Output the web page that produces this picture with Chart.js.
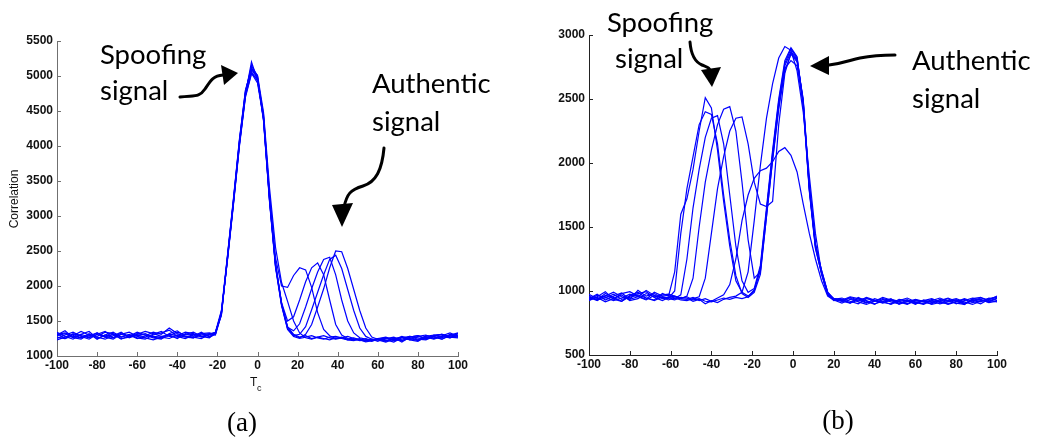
<!DOCTYPE html>
<html>
<head>
<meta charset="utf-8">
<script src="https://cdn.jsdelivr.net/npm/chart.js@4"></script>
<style>
  body { margin: 0; background: #fff; }
  #wrap { position: relative; width: 1044px; height: 437px; overflow: hidden; background: #fff; }
  canvas { position: absolute; top: 0; }
  #chartA { left: 0; }
  #chartB { left: 520px; }
  svg { position: absolute; left: 0; top: 0; }
  .note { font-family: Lato, "Noto Sans", sans-serif; font-size: 27.5px; fill: #000; }
  .lab { font-family: "Liberation Sans", Arial, sans-serif; fill: #111; }
  .cap { font-family: "Liberation Serif", "DejaVu Serif", serif; font-size: 27px; fill: #000; }
</style>
</head>
<body>
<div id="wrap">
  <canvas id="chartA" width="510" height="437"></canvas>
  <canvas id="chartB" width="524" height="437"></canvas>
  <svg width="1044" height="437">
    <text class="note" x="100" y="64">Spoofing</text>
    <text class="note" x="100" y="100">signal</text>
    <text class="note" x="372" y="93">Authentic</text>
    <text class="note" x="372" y="131">signal</text>
    <text class="note" x="607" y="32">Spoofing</text>
    <text class="note" x="615" y="68">signal</text>
    <text class="note" x="912" y="70">Authentic</text>
    <text class="note" x="912" y="108">signal</text>
    <text class="lab" style="font-size:12px" transform="translate(18,199) rotate(-90)" text-anchor="middle">Correlation</text>
    <text class="lab" style="font-size:12px" x="250" y="386">T</text>
    <text class="lab" style="font-size:9px" x="257" y="391">c</text>
    <text class="cap" x="242" y="431" text-anchor="middle">(a)</text>
    <text class="cap" x="838" y="429" text-anchor="middle">(b)</text>
    <g fill="none" stroke="#000" stroke-width="3" stroke-linecap="round">
      <path d="M180,97 C194,95 199,98 205,89 S213,76 223,75"/>
      <path d="M384,148 C382,170 376,182 363,186 S347,194 344,207"/>
      <path d="M690,42 C691,55 695,62 702,65 S710,68 711,73"/>
      <path d="M895,55 C880,55 870,56 860,58 S845,63 829,65"/>
    </g>
    <g fill="#000">
      <polygon points="238,73 221,65 224,85"/>
      <polygon points="342,227 332,205 353,203"/>
      <polygon points="712,87 701,70 721,67"/>
      <polygon points="810,66 829,56 829,75"/>
    </g>
  </svg>
</div>
<script>
// ---- panel (a): spoofing peak near 0, authentic peak moving out to +40 ----
const xA = [-100, -96, -92, -88, -84, -80, -76, -72, -68, -64, -60, -56, -52, -48, -44, -40, -36, -32, -28, -24,
  -21, -18, -15, -12, -9, -6, -3, 0, 3, 6, 9, 12, 15, 18, 21, 24, 27, 30, 33, 36, 39, 42, 45, 48, 51, 54, 57, 60,
  64, 68, 72, 76, 80, 84, 88, 92, 96, 100];

const a1 = [1300, 1360, 1260, 1310, 1350, 1250, 1300, 1340, 1270, 1310, 1260, 1240, 1300, 1330, 1370, 1280, 1250, 1300, 1320, 1280,
  1320, 1620, 2380, 3180, 4020, 4730, 5060, 4930, 4420, 3300, 2400, 2000, 1980, 2150, 2260, 2230, 1980, 1620, 1380, 1290, 1250, 1270, 1240, 1260, 1230, 1250, 1220, 1240,
  1210, 1260, 1200, 1270, 1290, 1240, 1300, 1310, 1260, 1320];
const a2 = [1250, 1300, 1340, 1280, 1240, 1310, 1350, 1260, 1330, 1280, 1340, 1300, 1260, 1240, 1320, 1360, 1280, 1270, 1250, 1310,
  1340, 1580, 2420, 3230, 4080, 4790, 5120, 4980, 4380, 3220, 2290, 1760, 1500, 1560, 1800, 2060, 2260, 2330, 2160, 1800, 1450, 1300, 1250, 1230, 1250, 1220, 1240, 1210,
  1260, 1220, 1270, 1230, 1280, 1300, 1250, 1290, 1330, 1280];
const a3 = [1340, 1280, 1240, 1310, 1270, 1330, 1280, 1310, 1250, 1270, 1310, 1350, 1320, 1280, 1300, 1250, 1320, 1280, 1340, 1270,
  1310, 1640, 2360, 3160, 4000, 4700, 5030, 4960, 4450, 3280, 2330, 1740, 1410, 1360, 1460, 1700, 1960, 2200, 2380, 2410, 2160, 1800, 1500, 1330, 1260, 1240, 1220, 1250,
  1230, 1200, 1260, 1280, 1240, 1230, 1280, 1310, 1270, 1260];
const a4 = [1230, 1270, 1310, 1260, 1290, 1330, 1270, 1240, 1310, 1340, 1280, 1260, 1230, 1270, 1310, 1290, 1340, 1320, 1270, 1300,
  1330, 1610, 2400, 3210, 4060, 4760, 5150, 5000, 4380, 3230, 2280, 1730, 1390, 1290, 1310, 1420, 1660, 1910, 2160, 2380, 2440, 2250, 1950, 1650, 1400, 1280, 1240, 1230,
  1200, 1240, 1220, 1270, 1290, 1250, 1280, 1240, 1300, 1330];
const a5 = [1290, 1320, 1260, 1240, 1310, 1280, 1340, 1320, 1270, 1300, 1250, 1290, 1340, 1310, 1400, 1320, 1280, 1260, 1300, 1320,
  1300, 1590, 2390, 3190, 4040, 4740, 5200, 4940, 4410, 3260, 2310, 1760, 1400, 1300, 1260, 1310, 1450, 1700, 1960, 2260, 2500, 2490, 2250, 1950, 1650, 1400, 1270, 1240,
  1220, 1250, 1270, 1230, 1210, 1280, 1300, 1260, 1310, 1280];
const a6 = [1320, 1250, 1290, 1350, 1300, 1270, 1240, 1290, 1340, 1260, 1300, 1270, 1310, 1350, 1280, 1270, 1310, 1340, 1280, 1260,
  1330, 1620, 2410, 3220, 4070, 4770, 5100, 5010, 4480, 3400, 2550, 2050, 1780, 1500, 1330, 1260, 1240, 1270, 1250, 1230, 1260, 1250, 1230, 1220, 1240, 1210, 1230, 1250,
  1270, 1230, 1280, 1250, 1220, 1270, 1240, 1280, 1260, 1300];
const a7 = [1270, 1250, 1320, 1290, 1260, 1310, 1270, 1310, 1240, 1290, 1320, 1300, 1280, 1270, 1250, 1300, 1270, 1260, 1320, 1330,
  1310, 1600, 2380, 3190, 4030, 4720, 5040, 4900, 4390, 3240, 2290, 1740, 1420, 1310, 1270, 1290, 1250, 1270, 1290, 1260, 1240, 1260, 1280, 1250, 1230, 1200, 1220, 1230,
  1250, 1270, 1220, 1250, 1230, 1290, 1270, 1240, 1290, 1270];
const a8 = [1310, 1330, 1280, 1260, 1320, 1240, 1300, 1260, 1310, 1280, 1290, 1320, 1270, 1250, 1290, 1340, 1300, 1310, 1280, 1310,
  1340, 1650, 2430, 3250, 4100, 4800, 5090, 4970, 4360, 3200, 2260, 1720, 1380, 1280, 1250, 1270, 1290, 1260, 1240, 1270, 1280, 1260, 1230, 1240, 1220, 1230, 1210, 1240,
  1260, 1220, 1240, 1280, 1260, 1240, 1290, 1310, 1280, 1320];

// ---- panel (b): spoofing peaks walking in from -42, authentic peak near 0 ----
const xB = [-100, -96, -92, -88, -84, -80, -76, -72, -68, -64,
  -61, -58, -55, -52, -49, -46, -43, -40, -37, -34, -31, -28, -25, -22, -19, -16, -13, -10, -7, -4, -1, 2, 5, 8, 11, 14, 17, 20,
  24, 28, 32, 36, 40, 44, 48, 52, 56, 60, 64, 68, 72, 76, 80, 84, 88, 92, 96, 100];

const b1 = [960, 930, 980, 950, 920, 965, 990, 945, 930, 980,
  960, 1150, 1600, 1720, 1950, 2250, 2510, 2430, 2100, 1700, 1350, 1080, 990, 960, 1000, 1180, 1620, 2080, 2480, 2780, 2890, 2820, 2470, 1790, 1340, 1130, 970, 925,
  935, 905, 950, 920, 895, 935, 915, 900, 930, 910, 895, 925, 900, 915, 930, 895, 935, 915, 945, 925];
const b2 = [940, 975, 930, 960, 985, 935, 955, 1005, 965, 950,
  945, 1000, 1450, 1800, 2050, 2300, 2400, 2380, 2150, 1750, 1400, 1120, 980, 950, 990, 1130, 1580, 2020, 2420, 2720, 2850, 2790, 2500, 1830, 1370, 1160, 990, 940,
  920, 950, 930, 905, 940, 920, 895, 925, 945, 915, 900, 935, 920, 895, 915, 940, 920, 900, 935, 950];
const b3 = [925, 955, 995, 935, 920, 960, 980, 995, 950, 925,
  950, 940, 970, 1250, 1650, 1950, 2200, 2350, 2370, 2150, 1750, 1350, 1080, 990, 1020, 1200, 1650, 2100, 2500, 2800, 2900, 2830, 2450, 1780, 1330, 1140, 975, 935,
  945, 920, 900, 940, 925, 905, 930, 915, 895, 925, 915, 900, 935, 920, 905, 895, 940, 950, 925, 915];
const b4 = [975, 940, 960, 990, 955, 935, 1005, 960, 980, 945,
  930, 955, 940, 960, 1100, 1500, 1850, 2100, 2300, 2420, 2440, 2250, 1850, 1400, 1100, 1150, 1580, 2030, 2440, 2760, 2870, 2810, 2490, 1820, 1360, 1150, 985, 930,
  925, 945, 915, 895, 920, 940, 925, 905, 915, 935, 920, 895, 910, 925, 940, 915, 895, 920, 940, 955];
const b5 = [950, 925, 965, 940, 980, 995, 960, 935, 990, 960,
  965, 945, 930, 925, 940, 955, 1100, 1450, 1800, 2050, 2250, 2350, 2360, 2150, 1850, 1680, 1660, 1700, 2300, 2700, 2860, 2800, 2480, 1810, 1350, 1145, 980, 940,
  930, 910, 945, 925, 900, 920, 940, 895, 920, 910, 925, 940, 915, 900, 920, 935, 910, 925, 915, 940];
const b6 = [935, 965, 950, 925, 945, 975, 955, 930, 965, 940,
  950, 960, 940, 935, 950, 925, 940, 920, 945, 970, 1050, 1250, 1550, 1750, 1880, 1940, 1960, 2010, 2090, 2120, 2060, 1930, 1680, 1450, 1250, 1080, 960, 930,
  905, 935, 920, 950, 930, 910, 900, 935, 925, 895, 930, 910, 925, 945, 920, 900, 925, 935, 910, 920];
const b7 = [955, 930, 945, 975, 935, 950, 970, 945, 925, 955,
  940, 930, 950, 945, 920, 935, 900, 925, 910, 935, 950, 960, 990, 1150, 1550, 1980, 2350, 2620, 2820, 2910, 2880, 2720, 2400, 1900, 1450, 1140, 970, 940,
  930, 955, 940, 910, 920, 950, 930, 920, 900, 930, 915, 925, 945, 920, 930, 905, 925, 945, 930, 960];
const b8 = [930, 950, 915, 940, 970, 925, 940, 980, 955, 970,
  975, 960, 945, 955, 930, 940, 920, 915, 930, 945, 935, 950, 940, 955, 1010, 1160, 1620, 2060, 2460, 2740, 2800, 2760, 2460, 1800, 1360, 1160, 990, 935,
  920, 905, 930, 945, 925, 910, 935, 920, 930, 900, 925, 915, 920, 940, 900, 925, 945, 930, 920, 945];

// tick labels
const xTicks = [-100, -80, -60, -40, -20, 0, 20, 40, 60, 80, 100];
const yTicksA = [1000, 1500, 2000, 2500, 3000, 3500, 4000, 4500, 5000, 5500];
const yTicksB = [500, 1000, 1500, 2000, 2500, 3000];

// matlab style ticks pointing into the plot
const innerTicks = {
  id: "innerTicks",
  afterDraw(chart, args, opts) {
    const { ctx, chartArea, scales } = chart;
    ctx.save();
    ctx.strokeStyle = opts.color;
    ctx.lineWidth = 1;
    ctx.beginPath();
    scales.x.ticks.forEach((t) => {
      const px = Math.round(scales.x.getPixelForValue(t.value)) + 0.5;
      ctx.moveTo(px, chartArea.bottom);
      ctx.lineTo(px, chartArea.bottom - opts.len);
    });
    scales.y.ticks.forEach((t) => {
      const py = Math.round(scales.y.getPixelForValue(t.value)) + 0.5;
      ctx.moveTo(chartArea.left, py);
      ctx.lineTo(chartArea.left + opts.len, py);
    });
    ctx.stroke();
    ctx.restore();
  },
};

function makeSets(xs, list) {
  return list.map((ys) => ({
    data: ys.map((y, i) => ({ x: xs[i], y: y })),
    borderColor: "#0000ff",
    borderWidth: 1.2,
    pointRadius: 0,
    tension: 0,
    fill: false,
  }));
}

function makeChart(id, xs, series, yTicks, opt) {
  const tickFont = { family: "'Liberation Sans', Arial, sans-serif", size: 12, weight: "bold" };
  return new Chart(document.getElementById(id), {
    type: "line",
    data: { datasets: makeSets(xs, series) },
    plugins: [innerTicks],
    options: {
      responsive: false,
      animation: false,
      devicePixelRatio: 1,
      layout: { padding: opt.pad },
      plugins: {
        legend: { display: false },
        tooltip: { enabled: false },
        innerTicks: { color: opt.axis, len: 4 },
      },
      scales: {
        x: {
          type: "linear",
          min: -100,
          max: 100,
          afterBuildTicks: (s) => { s.ticks = xTicks.map((v) => ({ value: v })); },
          afterFit: (s) => { s.height = opt.xh; },
          grid: { display: false, drawTicks: false, tickLength: 0 },
          border: { display: true, color: opt.axis, width: 1 },
          ticks: { font: tickFont, color: "#111", padding: 2, maxRotation: 0, autoSkip: false,
            callback: (v) => String(v) },
        },
        y: {
          min: yTicks[0],
          max: yTicks[yTicks.length - 1],
          afterBuildTicks: (s) => { s.ticks = yTicks.map((v) => ({ value: v })); },
          afterFit: (s) => { s.width = opt.yw; },
          grid: { display: false, drawTicks: false, tickLength: 0 },
          border: { display: true, color: opt.axis, width: 1 },
          ticks: { font: tickFont, color: "#111", padding: 4, autoSkip: false,
            callback: (v) => String(v) },
        },
      },
    },
  });
}

makeChart("chartA", xA, [a1, a2, a3, a4, a5, a6, a7, a8], yTicksA, {
  pad: { left: 0, right: 52, top: 41, bottom: 0 },
  xh: 81,
  yw: 57,
  axis: "#707070",
});

makeChart("chartB", xB, [b1, b2, b3, b4, b5, b6, b7, b8], yTicksB, {
  pad: { left: 0, right: 47, top: 35, bottom: 0 },
  xh: 82,
  yw: 69,
  axis: "#222",
});
</script>
</body>
</html>
